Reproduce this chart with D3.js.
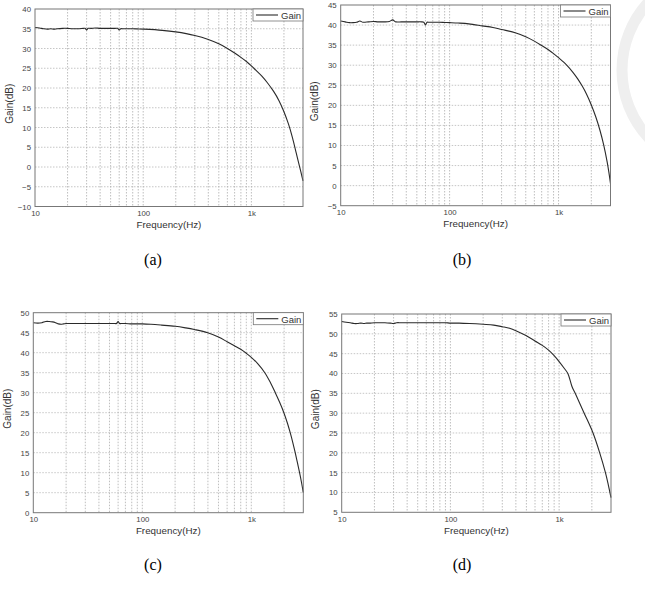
<!DOCTYPE html>
<html>
<head>
<meta charset="utf-8">
<script src="https://cdn.jsdelivr.net/npm/d3@7"></script>
<style>
  html, body { margin: 0; padding: 0; background: #fff; }
  svg { display: block; }
</style>
</head>
<body>
<svg id="chart" width="645" height="596"></svg>
<script>
// ---------------- data ----------------
const xTickValues = [10, 100, 1000];
const xTickLabels = ["10", "100", "1k"];
const xGridValues = [20, 30, 40, 50, 60, 70, 80, 90, 100, 200, 300, 400, 500, 600, 700, 800, 900, 1000, 2000];

const yTicksA = [-10, -5, 0, 5, 10, 15, 20, 25, 30, 35, 40];
const yTicksB = [-5, 0, 5, 10, 15, 20, 25, 30, 35, 40, 45];
const yTicksC = [0, 5, 10, 15, 20, 25, 30, 35, 40, 45, 50];
const yTicksD = [5, 10, 15, 20, 25, 30, 35, 40, 45, 50, 55];

const freqA = [10,11,12,13,14,15,16,18,20,22,25,28,29,30,31,33,36,40,45,50,55,58,60,62,65,70,80,90,100,150,200,300,400,500,600,700,800,900,1000,1100,1250,1400,1600,1800,2000,2200,2400,2600,2800,2900,3000];
const gainA = [35.3,35.2,35.0,34.9,35.0,34.9,35.0,35.1,35.1,35.0,35.0,35.1,35.1,34.7,35.1,35.1,35.2,35.1,35.1,35.1,35.1,35.1,34.7,35.0,35.0,35.0,35.0,34.95,34.9,34.6,34.2,33.3,32.3,31.2,30.0,28.85,27.75,26.7,25.6,24.5,23.0,21.4,19.2,16.8,14.0,10.9,7.4,3.5,-0.1,-1.8,-3.5];

const freqB = [10,11,12,13,14,15,16,18,20,22,25,28,30,32,36,40,45,50,55,58,60,62,65,70,80,90,100,120,150,200,250,300,400,500,600,700,800,900,1000,1100,1200,1350,1500,1650,1800,2000,2200,2400,2600,2800,2900,3000];
const gainB = [41.0,40.8,40.6,40.6,40.7,41.0,40.7,40.8,40.9,40.8,40.8,40.9,41.3,40.8,40.8,40.8,40.8,40.8,40.8,40.7,40.0,40.7,40.7,40.7,40.7,40.65,40.6,40.5,40.3,39.8,39.4,38.9,38.1,37.1,36.0,34.9,33.9,32.9,31.9,30.9,29.9,28.3,26.6,24.8,22.9,20.1,17.1,13.8,10.1,5.8,3.3,0.5];

const freqC = [10,11,12,13,14,15,16,17,18,19,20,22,25,28,30,35,40,45,50,55,58,60,62,65,70,80,90,100,120,150,200,250,300,398,500,600,700,800,900,1000,1150,1330,1500,1660,1820,1990,2150,2275,2400,2529,2650,2773,2900,3000];
const gainC = [47.5,47.4,47.5,47.8,47.8,47.7,47.5,47.2,47.1,47.2,47.3,47.3,47.3,47.3,47.3,47.3,47.3,47.3,47.3,47.3,47.3,47.8,47.3,47.3,47.3,47.2,47.2,47.2,47.1,46.9,46.6,46.2,45.8,45.0,43.9,42.75,41.75,40.85,39.85,38.85,37.2,35.0,32.5,30.0,27.6,25.0,22.3,20.0,17.6,15.0,12.5,10.0,7.3,5.0];

const freqD = [10,11,12,13,14,15,16,17,18,20,22,25,28,30,32,35,40,45,50,60,70,80,90,100,120,150,200,250,300,350,400,500,600,700,800,900,1000,1100,1203,1310,1406,1700,2050,2362,2667,2830,3000];
const gainD = [53.1,52.9,52.8,52.6,52.6,52.7,52.6,52.7,52.7,52.8,52.8,52.8,52.7,52.6,52.8,52.8,52.8,52.8,52.8,52.8,52.8,52.8,52.8,52.7,52.7,52.6,52.4,52.2,51.8,51.4,50.8,49.5,48.2,47.1,45.9,44.5,43.0,41.5,40.0,36.8,35.0,30.0,25.0,20.0,15.0,12.0,8.7];

const captions = ["(a)", "(b)", "(c)", "(d)"];
const seriesName = "Gain";

// ---------------- drawing ----------------
const SANS = "'Liberation Sans', Arial, sans-serif";
const SERIF = "'Liberation Serif', 'Times New Roman', serif";
const svg = d3.select("#chart");

// faint watermark ring (outside plot b)
svg.append("circle")
  .attr("cx", 722).attr("cy", 70).attr("r", 100)
  .attr("fill", "none").attr("stroke", "#efefef").attr("stroke-width", 11);

const panels = [
  { l: 35,    r: 303,   t: 9,     b: 206.5, freq: freqA, gain: gainA, yTicks: yTicksA, cap: captions[0], capX: 153, capY: 265 },
  { l: 340.7, r: 610.5, t: 5,     b: 205.7, freq: freqB, gain: gainB, yTicks: yTicksB, cap: captions[1], capX: 462, capY: 265 },
  { l: 33.3,  r: 303.3, t: 312.7, b: 512.7, freq: freqC, gain: gainC, yTicks: yTicksC, cap: captions[2], capX: 153, capY: 570 },
  { l: 341.7, r: 611,   t: 314,   b: 512.3, freq: freqD, gain: gainD, yTicks: yTicksD, cap: captions[3], capX: 462, capY: 570 }
];

panels.forEach(p => {
  const g = svg.append("g");
  const x = d3.scaleLog().domain([10, 3000]).range([p.l, p.r]);
  const y = d3.scaleLinear().domain([p.yTicks[0], p.yTicks[p.yTicks.length - 1]]).range([p.b, p.t]);

  // plot background
  g.append("rect").attr("x", p.l).attr("y", p.t)
    .attr("width", p.r - p.l).attr("height", p.b - p.t).attr("fill", "#fff");

  // horizontal grid
  g.append("g").selectAll("line").data(p.yTicks.slice(1, -1)).join("line")
    .attr("x1", p.l).attr("x2", p.r)
    .attr("y1", d => y(d)).attr("y2", d => y(d))
    .attr("stroke", "#b8b8b8").attr("stroke-width", 0.8).attr("stroke-dasharray", "1.5,1.5");

  // vertical grid
  g.append("g").selectAll("line").data(xGridValues).join("line")
    .attr("x1", d => x(d)).attr("x2", d => x(d))
    .attr("y1", p.t).attr("y2", p.b)
    .attr("stroke", "#adadad").attr("stroke-width", 0.8).attr("stroke-dasharray", "1.5,1.5");

  // y axis labels
  const yAxis = d3.axisLeft(y).tickValues(p.yTicks).tickSize(0).tickPadding(4);
  const ya = g.append("g").attr("transform", `translate(${p.l},0)`).call(yAxis);
  ya.select(".domain").remove();
  ya.selectAll("text").attr("fill", "#444")
    .style("font-size", "7.8px").style("font-family", SANS);

  // x axis labels
  const xAxis = d3.axisBottom(x).tickValues(xTickValues)
    .tickFormat((d, i) => xTickLabels[i]).tickSize(0).tickPadding(4);
  const xa = g.append("g").attr("transform", `translate(0,${p.b})`).call(xAxis);
  xa.select(".domain").remove();
  xa.selectAll("text").attr("fill", "#444")
    .style("font-size", "7.8px").style("font-family", SANS);

  // curve
  const pts = p.freq.map((f, i) => [f, p.gain[i]]);
  g.append("path").datum(pts)
    .attr("fill", "none").attr("stroke", "#2a2a2a").attr("stroke-width", 1.1)
    .attr("d", d3.line().x(d => x(d[0])).y(d => y(d[1])).curve(d3.curveCatmullRom.alpha(0.5)));

  // frame
  g.append("rect").attr("x", p.l).attr("y", p.t)
    .attr("width", p.r - p.l).attr("height", p.b - p.t)
    .attr("fill", "none").attr("stroke", "#777").attr("stroke-width", 1);

  // legend
  const lw = 50, lh = 12;
  const lx = p.r - lw, ly = p.t;
  g.append("rect").attr("x", lx).attr("y", ly).attr("width", lw).attr("height", lh)
    .attr("fill", "#fff").attr("stroke", "#777").attr("stroke-width", 0.8);
  g.append("line").attr("x1", lx + 3).attr("x2", lx + 25)
    .attr("y1", ly + lh / 2).attr("y2", ly + lh / 2)
    .attr("stroke", "#2a2a2a").attr("stroke-width", 1.1);
  g.append("text").attr("x", lx + 28).attr("y", ly + 9.8).attr("fill", "#333")
    .style("font-size", "9.5px").style("font-family", SANS).text(seriesName);

  // axis titles
  g.append("text").attr("x", (p.l + p.r) / 2).attr("y", p.b + 21.5)
    .attr("text-anchor", "middle").attr("fill", "#333")
    .style("font-size", "9.8px").style("font-family", SANS)
    .text("Frequency(Hz)");
  g.append("text")
    .attr("transform", `translate(${p.l - 22.5},${(p.t + p.b) / 2 - 4}) rotate(-90)`)
    .attr("text-anchor", "middle").attr("fill", "#333")
    .style("font-size", "10px").style("font-family", SANS)
    .text("Gain(dB)");

  // caption
  svg.append("text").attr("x", p.capX).attr("y", p.capY)
    .attr("text-anchor", "middle").attr("fill", "#000")
    .style("font-size", "16px").style("font-family", SERIF)
    .text(p.cap);
});
</script>
</body>
</html>
